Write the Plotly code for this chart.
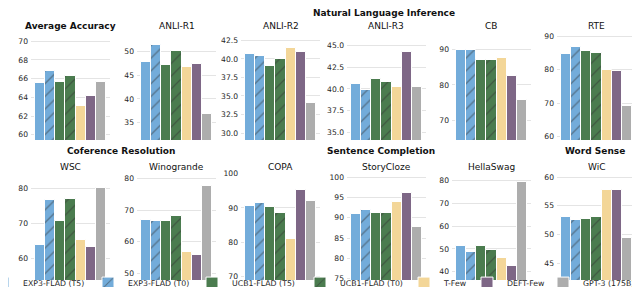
import plotly.graph_objects as go

# ---------------- data ----------------
methods = ["EXP3-FLAD (T5)", "EXP3-FLAD (T0)", "UCB1-FLAD (T5)", "UCB1-FLAD (T0)",
           "T-Few", "DEFT-Few", "GPT-3 (175B)"]
datasets = ["Average Accuracy", "ANLI-R1", "ANLI-R2", "ANLI-R3", "CB", "RTE",
            "WSC", "Winogrande", "COPA", "StoryCloze", "HellaSwag", "WiC"]

average_accuracy = [65.5, 66.8, 65.6, 66.3, 63.1, 64.1, 65.6]
anli_r1 = [47.7, 51.2, 47.2, 50.0, 46.7, 47.4, 36.9]
anli_r2 = [40.7, 40.4, 39.1, 40.0, 41.4, 40.9, 34.0]
anli_r3 = [40.6, 39.9, 41.2, 40.8, 40.2, 44.3, 40.2]
cb = [90.0, 89.8, 87.0, 87.0, 87.6, 82.6, 75.7]
rte = [84.6, 86.7, 85.6, 84.9, 80.0, 79.5, 69.0]
wsc = [64.0, 76.7, 70.6, 77.0, 65.4, 63.3, 80.1]
winogrande = [66.8, 66.7, 66.4, 68.2, 56.6, 55.9, 77.8]
copa = [90.5, 91.3, 90.3, 88.4, 81.0, 95.3, 92.0]
storycloze = [91.0, 91.8, 91.1, 91.1, 93.8, 96.1, 87.7]
hellaswag = [51.2, 48.8, 51.5, 49.7, 46.2, 42.6, 79.3]
wic = [53.1, 52.6, 52.7, 53.1, 57.8, 57.8, 49.4]

scores = [average_accuracy, anli_r1, anli_r2, anli_r3, cb, rte,
          wsc, winogrande, copa, storycloze, hellaswag, wic]

# tick steps per panel
tick_steps = [2, 5, 2.5, 2.5, 10, 10, 10, 10, 10, 5, 10, 5]

groups = [("Natural Language Inference", 376, 5),
          ("Coference Resolution", 113, 143),
          ("Sentence Completion", 373, 143),
          ("Word Sense", 587, 143)]

# ---------------- style / layout ----------------
W, H = 640, 287
colors = ["#73acda", "#73acda", "#4b7c4f", "#4b7c4f", "#f3d698", "#7e6786", "#adadad"]
hatched = [False, True, False, True, False, False, False]

y_ranges = [[59.43, 70.78], [31.4, 53.6], [29.06, 43.35], [34.1, 46.35],
            [64.4, 94.45], [58.9, 90.7], [54.0, 84.25], [47.8, 81.8],
            [68.9, 100.2], [74.7, 101.0], [36.35, 83.4], [42.1, 60.7]]

col_left = [23, 129, 233, 339, 444, 549]
col_w = 79
row_px = [(26, 132), (165, 272)]
legend_text_x = [23, 128, 232, 340, 444, 507, 583]
LEGEND_TEXT_OFFSET = 48

FONT = "DejaVu Sans"
fig = go.Figure()

for k, (name, vals) in enumerate(zip(datasets, scores)):
    r, c = divmod(k, 6)
    ax = "" if k == 0 else str(k + 1)
    for i, m in enumerate(methods):
        pattern = dict(shape="/", fgcolor="#333333", bgcolor=colors[i],
                       size=9, solidity=0.14) if hatched[i] else dict(shape="")
        fig.add_trace(go.Bar(
            x=[i], y=[vals[i]], width=1.0,
            name=m,
            marker=dict(color=colors[i], line=dict(color="white", width=1),
                        pattern=pattern),
            xaxis="x" + ax, yaxis="y" + ax,
            showlegend=(k == 0),
            legend="legend" if i == 0 else "legend%d" % (i + 1),
            hovertemplate=f"{name}<br>{m}: %{{y}}<extra></extra>",
        ))
    x0 = col_left[c] / W
    x1 = (col_left[c] + col_w) / W
    top, bot = row_px[r]
    y0 = (H - bot) / H
    y1 = (H - top) / H
    fig.layout["xaxis" + ax] = dict(domain=[x0, x1], range=[-0.89, 6.89],
                                    showticklabels=False, showgrid=False,
                                    zeroline=False, showline=False, automargin=False,
                                    anchor="y" + ax, fixedrange=True)
    fig.layout["yaxis" + ax] = dict(domain=[y0, y1], range=y_ranges[k],
                                    anchor="x" + ax, showgrid=True, automargin=False,
                                    gridcolor="#e4e4e4", gridwidth=1,
                                    zeroline=False, showline=False,
                                    tickmode="linear", tick0=0, dtick=tick_steps[k],
                                    tickformat=".1f" if tick_steps[k] == 2.5 else "",
                                    tickfont=dict(size=7.6, color="#262626", family=FONT),
                                    ticks="", ticklabelstandoff=2)
    title_y = (H - (18 if r == 0 else 159)) / H
    fig.add_annotation(text=("<b>%s</b>" % name) if k == 0 else name,
                       x=(x0 + x1) / 2, y=title_y, xref="paper", yref="paper",
                       xanchor="center", yanchor="middle", showarrow=False,
                       font=dict(size=9, color="#111111", family=FONT))

for text, px, py in groups:
    fig.add_annotation(text="<b>%s</b>" % text, x=px / W, y=(H - py) / H,
                       xref="paper", yref="paper", xanchor="center", yanchor="middle",
                       showarrow=False, font=dict(size=9, color="#111111", family=FONT))

layout_legends = {}
for i, tx in enumerate(legend_text_x):
    key = "legend" if i == 0 else "legend%d" % (i + 1)
    layout_legends[key] = dict(x=(tx - LEGEND_TEXT_OFFSET) / W, y=-0.009, xanchor="left",
                               yanchor="bottom", orientation="h",
                               bgcolor="rgba(0,0,0,0)", borderwidth=0,
                               font=dict(size=7.8, color="#262626", family=FONT),
                               itemwidth=30, tracegroupgap=0)

fig.update_layout(width=W, height=H,
                  margin=dict(l=0, r=0, t=0, b=0, autoexpand=False),
                  plot_bgcolor="white", paper_bgcolor="white",
                  bargap=0, font=dict(family=FONT), **layout_legends)

fig.write_html("out.html")
